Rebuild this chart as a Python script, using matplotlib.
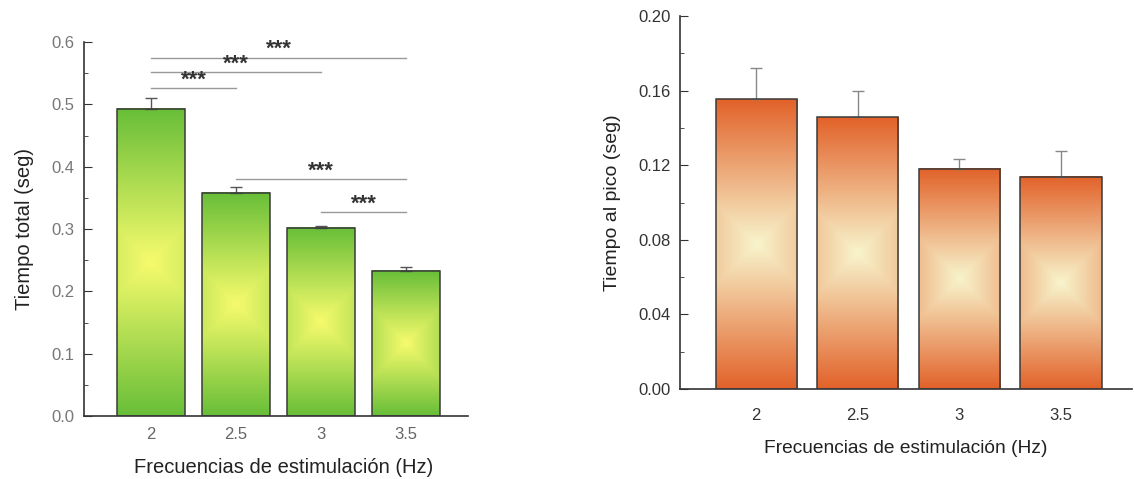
import numpy as np
import matplotlib
matplotlib.use("Agg")
import matplotlib.pyplot as plt
from matplotlib.colors import LinearSegmentedColormap

plt.rcParams['font.family'] = ['Liberation Sans', 'DejaVu Sans']

freqs = ['2', '2.5', '3', '3.5']
total_mean = [0.493, 0.358, 0.302, 0.233]
total_err = [0.017, 0.010, 0.003, 0.006]
pico_mean = [0.1553, 0.1458, 0.118, 0.1137]
pico_err = [0.0168, 0.0142, 0.0054, 0.014]
sig_pairs = [(0, 1), (0, 2), (0, 3), (1, 3), (2, 3)]
sig_heights = [0.526, 0.552, 0.575, 0.380, 0.327]
sig_labels = ['***', '***', '***', '***', '***']

fig = plt.figure(figsize=(11.34, 4.79), dpi=100)
ax1 = fig.add_axes([84/1134, 1-416/479, (468-84)/1134, (416-42)/479])
ax2 = fig.add_axes([680/1134, 1-389/479, (1132-680)/1134, (389-16)/479])


def grad_bars(ax, means, errs, edge_c, center_c, err_c, width=0.8):
    cmap = LinearSegmentedColormap.from_list('g', [center_c, edge_c])
    fig.canvas.draw()
    x = np.arange(len(means))
    for xi, h in zip(x, means):
        p0 = ax.transData.transform((xi - width/2, 0))
        p1 = ax.transData.transform((xi + width/2, h))
        wpx = abs(p1[0]-p0[0]); hpx = abs(p1[1]-p0[1])
        ny, nx = 300, 100
        v = np.linspace(-1, 1, ny)[:, None]
        u = np.linspace(-1, 1, nx)[None, :]
        t = np.maximum(np.abs(v), np.abs(u) * (wpx / hpx))
        ax.imshow(t, cmap=cmap, vmin=0, vmax=1, extent=[xi-width/2, xi+width/2, 0, h],
                  origin='lower', aspect='auto', zorder=1, interpolation='bilinear')
    ax.bar(x, means, width=width, facecolor='none', edgecolor='#3a3a3a', linewidth=1.1, zorder=3)
    ax.errorbar(x, means, yerr=[np.zeros(len(errs)), errs], fmt='none', ecolor=err_c,
                elinewidth=1, capsize=4, capthick=1, zorder=2)
    ax.set_xticks(x)
    ax.set_xticklabels(freqs)


for ax in (ax1, ax2):
    for s in ('top', 'right'):
        ax.spines[s].set_visible(False)
    for s in ('left', 'bottom'):
        ax.spines[s].set_color('#333333')
        ax.spines[s].set_linewidth(1.2)

ax1.set_xlim(-0.79, 3.73)
ax1.set_ylim(0, 0.6)
ax2.set_xlim(-0.75, 3.70)
ax2.set_ylim(0, 0.2)

grad_bars(ax1, total_mean, total_err, '#68be38', '#f6fb6c', '#555555')
grad_bars(ax2, pico_mean, pico_err, '#e2622a', '#f8f4cc', '#888888')

ax1.set_yticks(np.arange(0, 0.61, 0.1))
ax1.set_yticklabels(['0.0', '0.1', '0.2', '0.3', '0.4', '0.5', '0.6'])
ax1.set_yticks(np.arange(0.05, 0.6, 0.1), minor=True)
ax1.tick_params(axis='y', which='major', direction='in', length=6, color='#333333',
                labelcolor='#777777', labelsize=12, pad=7)
ax1.tick_params(axis='y', which='minor', direction='in', length=3, color='#333333')
ax1.tick_params(axis='x', length=0, labelcolor='#666666', labelsize=12, pad=8)

ax2.set_yticks(np.arange(0, 0.201, 0.04))
ax2.set_yticklabels(['0.00', '0.04', '0.08', '0.12', '0.16', '0.20'])
ax2.set_yticks(np.arange(0.02, 0.2, 0.04), minor=True)
ax2.tick_params(axis='y', which='major', direction='in', length=6, color='#333333',
                labelcolor='#333333', labelsize=12, pad=7)
ax2.tick_params(axis='y', which='minor', direction='in', length=3, color='#333333')
ax2.tick_params(axis='x', length=0, labelcolor='#333333', labelsize=12, pad=14)

for (i, j), h, lab in zip(sig_pairs, sig_heights, sig_labels):
    ax1.plot([i, j], [h, h], color='#999999', lw=1, zorder=4)
    ax1.text((i + j) / 2, h - 0.004, lab, ha='center', va='bottom', fontsize=16,
             fontweight='bold', color='#333333', zorder=5)

ax1.set_xlabel('Frecuencias de estimulación (Hz)', fontsize=14.5, color='#222222', labelpad=11)
ax1.xaxis.set_label_coords(0.52, -0.112)
ax1.xaxis.label.set_va('top')
ax1.set_ylabel('Tiempo total (seg)', fontsize=14.5, color='#222222', labelpad=12)
ax2.set_xlabel('Frecuencias de estimulación (Hz)', fontsize=13.8, color='#222222', labelpad=12)
ax2.set_ylabel('Tiempo al pico (seg)', fontsize=14, color='#222222', labelpad=12)

fig.savefig('out.png', dpi=100)
